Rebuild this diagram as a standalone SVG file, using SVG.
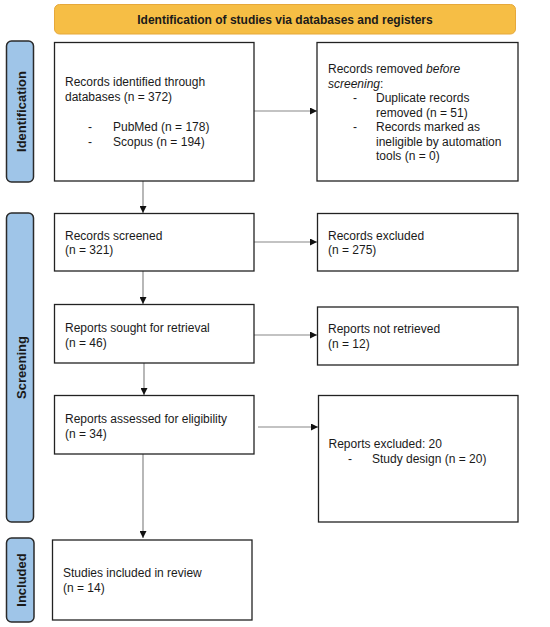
<svg xmlns="http://www.w3.org/2000/svg" width="550" height="627" viewBox="0 0 550 627">
<style>
.box{fill:#fff;stroke:#222;stroke-width:1.3}
.side{fill:#9FC5E8;stroke:#2a2a2a;stroke-width:1.5}
.t{font-family:"Liberation Sans",Arial,sans-serif;font-size:12px;fill:#1a1a1a}
.st{font-family:"Liberation Sans",Arial,sans-serif;font-size:13px;font-weight:bold;fill:#1a1a1a}
.con{stroke:#888;stroke-width:1.2;fill:none;marker-end:url(#ah)}
</style>
<defs>
<marker id="ah" viewBox="0 0 10 10" refX="10" refY="5" markerWidth="7" markerHeight="7" markerUnits="userSpaceOnUse" orient="auto">
<path d="M0,0 L10,5 L0,10 z" fill="#111"/>
</marker>
</defs>
<rect width="550" height="627" fill="#fff"/>
<g id="banner">
<rect x="54.5" y="4.5" width="461" height="29.5" rx="5" fill="#F6BE45" stroke="#E6A83A" stroke-width="1"/>
<text x="285" y="23.5" text-anchor="middle" style="font-family:'Liberation Sans',Arial,sans-serif;font-size:12px;font-weight:bold;fill:#1a1a1a">Identification of studies via databases and registers</text>
</g>
<g id="side-identification">
<rect class="side" x="6.5" y="41" width="27" height="141" rx="5"/>
<text class="st" transform="translate(25.5,111.5) rotate(-90)" text-anchor="middle">Identification</text>
</g>
<g id="side-screening">
<rect class="side" x="6.5" y="213" width="27" height="309" rx="5"/>
<text class="st" transform="translate(25.5,367.5) rotate(-90)" text-anchor="middle">Screening</text>
</g>
<g id="side-included">
<rect class="side" x="6.5" y="538" width="27.5" height="84" rx="5"/>
<text class="st" transform="translate(25.5,580) rotate(-90)" text-anchor="middle">Included</text>
</g>
<g id="connectors">
<line class="con" x1="254" y1="111" x2="317" y2="111"/>
<line class="con" x1="143" y1="181" x2="143" y2="213"/>
<line class="con" x1="254" y1="242" x2="317" y2="242"/>
<line class="con" x1="143" y1="271" x2="143" y2="304"/>
<line class="con" x1="254" y1="335" x2="317" y2="335"/>
<line class="con" x1="144" y1="363" x2="144" y2="395"/>
<line class="con" x1="258" y1="427" x2="318" y2="427"/>
<line class="con" x1="143" y1="454" x2="143" y2="538"/>
</g>
<g id="n-identified">
<rect class="box" x="54.5" y="42.5" width="199.5" height="138.5"/>
<text class="t" x="65" y="86">Records identified through</text>
<text class="t" x="65" y="101">databases (n = 372)</text>
<text class="t" x="88" y="131">-</text>
<text class="t" x="113" y="131">PubMed (n = 178)</text>
<text class="t" x="88" y="146">-</text>
<text class="t" x="113" y="146">Scopus (n = 194)</text>
</g>
<g id="n-removed">
<rect class="box" x="317" y="42.5" width="201" height="138.5"/>
<text class="t" x="328" y="73">Records removed <tspan font-style="italic">before</tspan></text>
<text class="t" x="328" y="87.5"><tspan font-style="italic">screening</tspan>:</text>
<text class="t" x="353" y="102">-</text>
<text class="t" x="376" y="102">Duplicate records</text>
<text class="t" x="376" y="116.5">removed (n = 51)</text>
<text class="t" x="353" y="131">-</text>
<text class="t" x="376" y="131">Records marked as</text>
<text class="t" x="376" y="145.5">ineligible by automation</text>
<text class="t" x="376" y="160">tools (n = 0)</text>
</g>
<g id="n-screened">
<rect class="box" x="54.5" y="213.5" width="199.5" height="57.5"/>
<text class="t" x="65" y="240">Records screened</text>
<text class="t" x="65" y="254">(n = 321)</text>
</g>
<g id="n-excluded">
<rect class="box" x="317.5" y="213.5" width="200.5" height="57.5"/>
<text class="t" x="328" y="240">Records excluded</text>
<text class="t" x="328" y="254">(n = 275)</text>
</g>
<g id="n-sought">
<rect class="box" x="54.5" y="304.5" width="199.5" height="58.5"/>
<text class="t" x="65" y="332">Reports sought for retrieval</text>
<text class="t" x="65" y="347">(n = 46)</text>
</g>
<g id="n-notretrieved">
<rect class="box" x="317.5" y="307" width="200.5" height="58"/>
<text class="t" x="328" y="333">Reports not retrieved</text>
<text class="t" x="328" y="348">(n = 12)</text>
</g>
<g id="n-assessed">
<rect class="box" x="54.5" y="395.5" width="199.5" height="58.5"/>
<text class="t" x="65" y="423">Reports assessed for eligibility</text>
<text class="t" x="65" y="438">(n = 34)</text>
</g>
<g id="n-reportsexcluded">
<rect class="box" x="318.5" y="395.5" width="199.5" height="126.5"/>
<text class="t" x="328.5" y="448">Reports excluded: 20</text>
<text class="t" x="348" y="463">-</text>
<text class="t" x="372" y="463">Study design (n = 20)</text>
</g>
<g id="n-included">
<rect class="box" x="52.5" y="540" width="199.5" height="80"/>
<text class="t" x="63" y="577">Studies included in review</text>
<text class="t" x="63" y="592">(n = 14)</text>
</g>
</svg>
